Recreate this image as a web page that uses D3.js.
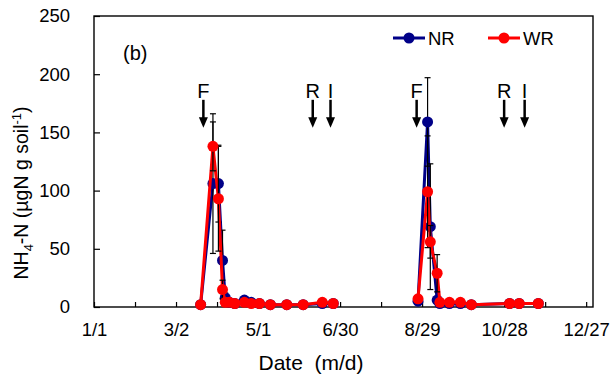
<!DOCTYPE html>
<html>
<head>
<meta charset="utf-8">
<script src="https://cdn.jsdelivr.net/npm/d3@7"></script>
<style>
  body { margin: 0; background: #fff; }
  text { font-family: "Liberation Sans", Arial, sans-serif; fill: #000; }
</style>
</head>
<body>
<div id="chart"></div>
<script>
// sampling dates (m/d) of the two seasons
const springDates = ["3/20", "3/29", "4/2", "4/5", "4/7", "4/10", "4/14", "4/21", "4/26", "5/2", "5/10", "5/22", "6/3", "6/17", "6/25"];
const autumnDates = ["8/26", "9/2", "9/4", "9/9", "9/11", "9/18", "9/26", "10/4", "11/1", "11/8", "11/22"];

// NH4-N (ugN g soil-1)
const nrSpring = [2, 106, 106, 40, 8, 4, 3, 6, 4, 3, 2, 2, 2, 3, 3];
const wrSpring = [2, 138, 93, 15, 4, 4, 3, 4, 3, 3, 2, 2, 2, 4, 3];
const nrAutumn = [5, 159, 69, 6, 3, 3, 3, 2, 3, 3, 3];
const wrAutumn = [7, 99, 56, 29, 4, 4, 4, 2, 3, 3, 3];

// error bars
const nrSpringErr = [1, 60, 33, 26, 4, 1, 1, 2, 1, 1, 1, 1, 1, 1, 1];
const wrSpringErr = [1, 21, 45, 8, 2, 1, 1, 1, 1, 1, 1, 1, 1, 1, 1];
const nrAutumnErr = [2, 38, 54, 3, 1, 1, 1, 1, 1, 1, 1];
const wrAutumnErr = [2, 48, 14, 16, 1, 1, 1, 1, 1, 1, 1];

// events: F = fertilization, R, I
const eventLabels = ["F", "R", "I", "F", "R", "I"];
const eventDates = ["3/22", "6/10", "6/23", "8/25", "10/28", "11/12"];

const xTickLabels = ["1/1", "3/2", "5/1", "6/30", "8/29", "10/28", "12/27"];
const yTicks = [0, 50, 100, 150, 200, 250];

const series = [
    { name: "NR", color: "#000088", parts: [[springDates, nrSpring, nrSpringErr], [autumnDates, nrAutumn, nrAutumnErr]] },
    { name: "WR", color: "#ff0000", parts: [[springDates, wrSpring, wrSpringErr], [autumnDates, wrAutumn, wrAutumnErr]] }
];

const toDate = s => d3.timeParse("%m/%d/%Y")(s + "/2015");
const fmt = d3.timeFormat("%-m/%-d");

const width = 614;
const height = 383;
const margin = { top: 16, right: 21, bottom: 76, left: 94 };
const innerW = width - margin.left - margin.right;
const innerH = height - margin.top - margin.bottom;

const start = toDate("1/1");
const x = d3.scaleTime()
    .domain([start, d3.timeDay.offset(start, 365)])
    .range([0, innerW]);
const y = d3.scaleLinear().domain([0, 250]).range([innerH, 0]);

const svg = d3.select("#chart").append("svg")
    .attr("width", width)
    .attr("height", height)
    .append("g")
    .attr("transform", `translate(${margin.left},${margin.top})`);

// axes (ticks point inward, every 30 days, label every 60)
const majors = xTickLabels.map(toDate);
const minors = majors.slice(0, -1).map(d => d3.timeDay.offset(d, 30));
const labelSet = new Set(xTickLabels);
const xAxis = svg.append("g")
    .attr("transform", `translate(0,${innerH})`)
    .call(d3.axisBottom(x)
        .tickValues(majors.concat(minors))
        .tickFormat(d => labelSet.has(fmt(d)) ? fmt(d) : "")
        .tickSizeInner(-5)
        .tickSizeOuter(0)
        .tickPadding(16));
const yAxis = svg.append("g")
    .call(d3.axisLeft(y)
        .tickValues(yTicks)
        .tickSizeInner(-6)
        .tickSizeOuter(0)
        .tickPadding(24));
[xAxis, yAxis].forEach(a => {
    a.select(".domain").remove();
    a.selectAll("line").attr("stroke", "#000").attr("stroke-width", 1.2);
    a.selectAll("text").style("font-size", "18.5px").attr("fill", "#000");
});

svg.append("rect")
    .attr("width", innerW)
    .attr("height", innerH)
    .attr("fill", "none")
    .attr("stroke", "#000")
    .attr("stroke-width", 1.4);

// series
const line = d3.line().x(d => x(d.date)).y(d => y(d.v));
series.forEach(s => {
    const g = svg.append("g");
    s.parts.forEach(([dates, vals, errs]) => {
        const pts = dates.map((d, i) => ({ date: toDate(d), v: vals[i], e: errs[i] }));
        g.append("path")
            .datum(pts)
            .attr("d", line)
            .attr("fill", "none")
            .attr("stroke", s.color)
            .attr("stroke-width", 3)
            .attr("stroke-linejoin", "round");
        const eb = g.append("g").selectAll("g").data(pts).enter().append("g")
            .attr("stroke", "#000").attr("stroke-width", 1.2);
        eb.append("line")
            .attr("x1", d => x(d.date)).attr("x2", d => x(d.date))
            .attr("y1", d => y(d.v + d.e)).attr("y2", d => y(Math.max(0, d.v - d.e)));
        eb.append("line")
            .attr("x1", d => x(d.date) - 3).attr("x2", d => x(d.date) + 3)
            .attr("y1", d => y(d.v + d.e)).attr("y2", d => y(d.v + d.e));
        eb.append("line")
            .attr("x1", d => x(d.date) - 3).attr("x2", d => x(d.date) + 3)
            .attr("y1", d => y(Math.max(0, d.v - d.e))).attr("y2", d => y(Math.max(0, d.v - d.e)));
        g.append("g").selectAll("circle").data(pts).enter().append("circle")
            .attr("cx", d => x(d.date))
            .attr("cy", d => y(d.v))
            .attr("r", 5.5)
            .attr("fill", s.color);
    });
});

// event arrows
const ev = svg.append("g").selectAll("g")
    .data(eventLabels.map((l, i) => ({ label: l, date: toDate(eventDates[i]) })))
    .enter().append("g")
    .attr("transform", d => `translate(${x(d.date)},0)`);
ev.append("text")
    .attr("y", y(178) - 2)
    .attr("text-anchor", "middle")
    .style("font-size", "20px")
    .text(d => d.label);
ev.append("line")
    .attr("y1", y(178)).attr("y2", y(162))
    .attr("stroke", "#000").attr("stroke-width", 2.5);
ev.append("path")
    .attr("d", `M-4.5,${y(163)}L4.5,${y(163)}L0,${y(154)}Z`)
    .attr("fill", "#000");

// panel label
svg.append("text")
    .attr("x", 29).attr("y", 44)
    .style("font-size", "20px")
    .text("(b)");

// legend
const legend = svg.append("g").selectAll("g").data(series).enter().append("g")
    .attr("transform", (d, i) => `translate(${299 + i * 95},${22})`);
legend.append("line")
    .attr("x1", 0).attr("x2", 32)
    .attr("stroke", d => d.color).attr("stroke-width", 3);
legend.append("circle").attr("cx", 16).attr("r", 5.5).attr("fill", d => d.color);
legend.append("text")
    .attr("x", 35).attr("y", 6.5)
    .style("font-size", "18.5px")
    .text(d => d.name);

// axis titles
svg.append("text")
    .attr("x", 311 - margin.left).attr("y", innerH + 63)
    .attr("text-anchor", "middle")
    .style("font-size", "21px")
    .style("white-space", "pre")
    .text("Date  (m/d)");

const yt = svg.append("text")
    .attr("transform", `translate(${28 - margin.left},${193 - margin.top}) rotate(-90)`)
    .attr("text-anchor", "middle")
    .style("font-size", "19.5px");
yt.append("tspan").text("NH");
yt.append("tspan").attr("dy", 5).style("font-size", "13px").text("4");
yt.append("tspan").attr("dy", -5).text("-N (\u00b5gN g soil");
yt.append("tspan").attr("dy", -7).style("font-size", "13px").text("-1");
yt.append("tspan").attr("dy", 7).text(")");
</script>
</body>
</html>
